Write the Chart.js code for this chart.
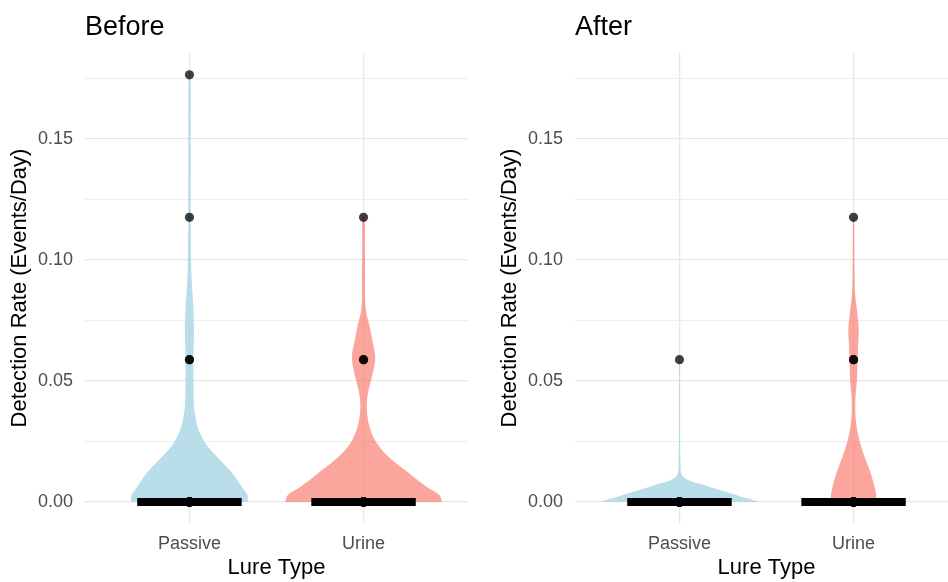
<!DOCTYPE html>
<html>
<head>
<meta charset="utf-8">
<script src="https://cdn.jsdelivr.net/npm/chart.js@4.4.1/dist/chart.umd.min.js"></script>
<style>
html, body { margin: 0; padding: 0; background: #ffffff; }
body { width: 948px; height: 582px; overflow: hidden; position: relative; }
canvas { position: absolute; top: 0; }
#before { left: 0; }
#after { left: 490px; }
</style>
</head>
<body>
<canvas id="before" width="474" height="582"></canvas>
<canvas id="after" width="474" height="582"></canvas>
<script>
// ---------- data ----------
const categories = ['Passive', 'Urine'];
const panelTitles = ['Before', 'After'];
const xAxisTitle = 'Lure Type';
const yAxisTitle = 'Detection Rate (Events/Day)';
const yTickValues = [0, 0.05, 0.10, 0.15];
const yTickLabels = ['0.00', '0.05', '0.10', '0.15'];
const yMinorValues = [0.025, 0.075, 0.125, 0.175];

// violin outlines: detection-rate levels and half-widths (in category units)
const beforePassiveLevels = [0, 0.003, 0.0062, 0.012, 0.0186, 0.0244, 0.030, 0.035, 0.040, 0.050, 0.060, 0.070, 0.080, 0.090, 0.100, 0.120, 0.150, 0.1765];
const beforePassiveHalfWidth = [0.335, 0.332, 0.301, 0.246, 0.159, 0.090, 0.052, 0.035, 0.026, 0.023, 0.023, 0.026, 0.023, 0.014, 0.009, 0.007, 0.006, 0.005];

const beforeUrineLevels = [0, 0.003, 0.0062, 0.012, 0.0186, 0.0244, 0.031, 0.038, 0.044, 0.050, 0.057, 0.061, 0.0656, 0.0725, 0.079, 0.085, 0.095, 0.105, 0.1176];
const beforeUrineHalfWidth = [0.451, 0.434, 0.364, 0.260, 0.145, 0.075, 0.035, 0.019, 0.023, 0.042, 0.064, 0.066, 0.054, 0.035, 0.014, 0.009, 0.009, 0.0075, 0.006];

const afterPassiveLevels = [0, 0.0012, 0.0024, 0.0049, 0.0073, 0.009, 0.0104, 0.012, 0.016, 0.030, 0.0588];
const afterPassiveHalfWidth = [0.457, 0.405, 0.347, 0.231, 0.127, 0.052, 0.021, 0.009, 0.005, 0.003, 0.002];

const afterUrineLevels = [0, 0.003, 0.0062, 0.012, 0.0186, 0.0244, 0.031, 0.038, 0.044, 0.050, 0.057, 0.0656, 0.070, 0.0725, 0.079, 0.085, 0.090, 0.100, 0.1176];
const afterUrineHalfWidth = [0.130, 0.130, 0.121, 0.098, 0.064, 0.038, 0.018, 0.010, 0.012, 0.019, 0.023, 0.027, 0.030, 0.029, 0.020, 0.010, 0.007, 0.005, 0.003];

// individual observations (events/day)
const beforePassivePoints = [0,0,0,0,0,0,0,0,0,0,0,0,0, 0.0588, 0.0588, 0.1176, 0.1765];
const beforeUrinePoints = [0,0,0,0,0,0,0,0,0,0,0,0, 0.0588, 0.0588, 0.1176];
const afterPassivePoints = [0,0,0,0,0,0,0,0,0,0,0,0,0,0,0,0, 0.0588];
const afterUrinePoints = [0,0,0,0,0,0,0,0,0,0,0,0,0, 0.0588, 0.0588, 0.1176];

// medians per lure type
const beforeMedians = [0, 0];
const afterMedians = [0, 0];

// ---------- styling ----------
const FONT = "'Liberation Sans', Arial, Helvetica, sans-serif";
const fillColors = ['rgba(173,216,230,0.85)', 'rgba(250,128,114,0.70)'];
const pointColor = 'rgba(0,0,0,0.75)';
const MEDIAN_HALF = 0.3;

function violinOutline(center, levels, half) {
  const right = levels.map((y, i) => ({ x: center + half[i], y: y }));
  const left = levels.map((y, i) => ({ x: center - half[i], y: y })).reverse();
  return right.concat(left);
}

function buildConfig(title, violins, pointSets, medians) {
  const datasets = [];
  violins.forEach((v, i) => {
    datasets.push({
      type: 'scatter',
      data: violinOutline(i + 1, v.levels, v.half),
      showLine: true,
      fill: 'shape',
      backgroundColor: fillColors[i],
      borderColor: 'rgba(0,0,0,0)',
      borderWidth: 1,
      pointRadius: 0,
      tension: 0.35,
      order: 3
    });
  });
  medians.forEach((m, i) => {
    datasets.push({
      type: 'scatter',
      data: [{ x: i + 1 - MEDIAN_HALF, y: m }, { x: i + 1 + MEDIAN_HALF, y: m }],
      showLine: true,
      fill: false,
      borderColor: '#000000',
      borderWidth: 8,
      borderCapStyle: 'butt',
      pointRadius: 0,
      order: 2
    });
  });
  pointSets.forEach((pts, i) => {
    datasets.push({
      type: 'scatter',
      data: pts.map(v => ({ x: i + 1, y: v })),
      showLine: false,
      pointRadius: 4.6,
      pointBackgroundColor: pointColor,
      pointBorderColor: 'rgba(0,0,0,0)',
      pointBorderWidth: 0,
      order: 1
    });
  });

  const allY = yTickValues.concat(yMinorValues).sort((a, b) => a - b);
  const isMajor = v => yTickValues.some(t => Math.abs(t - v) < 1e-9);

  return {
    type: 'scatter',
    data: { datasets: datasets },
    options: {
      responsive: false,
      animation: false,
      events: [],
      layout: { padding: { left: 0, right: 6, top: 0, bottom: 0 } },
      plugins: {
        legend: { display: false },
        tooltip: { enabled: false },
        title: {
          display: true,
          text: title,
          align: 'start',
          fullSize: false,
          color: '#000000',
          font: { family: FONT, size: 27, weight: 'normal' },
          padding: { top: 11, bottom: 9.6 }
        }
      },
      scales: {
        x: {
          type: 'linear',
          min: 0.4,
          max: 2.6,
          afterBuildTicks: s => { s.ticks = categories.map((c, i) => ({ value: i + 1 })); },
          afterFit: s => { s.height = 59; },
          ticks: {
            autoSkip: false,
            maxRotation: 0,
            padding: 10,
            color: '#4d4d4d',
            font: { family: FONT, size: 18 },
            callback: v => categories[Math.round(v) - 1]
          },
          grid: { color: '#e6e6e6', lineWidth: 1.3, drawTicks: false },
          border: { display: false },
          title: {
            display: true,
            text: xAxisTitle,
            color: '#000000',
            font: { family: FONT, size: 22 },
            padding: { top: 0, bottom: 1 }
          }
        },
        y: {
          type: 'linear',
          min: -0.0087,
          max: 0.1855,
          afterBuildTicks: s => { s.ticks = allY.map(v => ({ value: v })); },
          afterFit: s => { s.width = 85; },
          ticks: {
            padding: 12,
            color: '#4d4d4d',
            font: { family: FONT, size: 18 },
            callback: v => {
              const k = yTickValues.findIndex(t => Math.abs(t - v) < 1e-9);
              return k >= 0 ? yTickLabels[k] : '';
            }
          },
          grid: {
            drawTicks: false,
            color: c => (c.tick && isMajor(c.tick.value)) ? '#e6e6e6' : '#ededed',
            lineWidth: c => (c.tick && isMajor(c.tick.value)) ? 1.3 : 1.1
          },
          border: { display: false },
          title: {
            display: true,
            text: yAxisTitle,
            color: '#000000',
            font: { family: FONT, size: 22 },
            padding: { top: 6.7, bottom: 0 }
          }
        }
      }
    }
  };
}

new Chart(document.getElementById('before'), buildConfig(
  panelTitles[0],
  [
    { levels: beforePassiveLevels, half: beforePassiveHalfWidth },
    { levels: beforeUrineLevels, half: beforeUrineHalfWidth }
  ],
  [beforePassivePoints, beforeUrinePoints],
  beforeMedians
));

new Chart(document.getElementById('after'), buildConfig(
  panelTitles[1],
  [
    { levels: afterPassiveLevels, half: afterPassiveHalfWidth },
    { levels: afterUrineLevels, half: afterUrineHalfWidth }
  ],
  [afterPassivePoints, afterUrinePoints],
  afterMedians
));
</script>
</body>
</html>
